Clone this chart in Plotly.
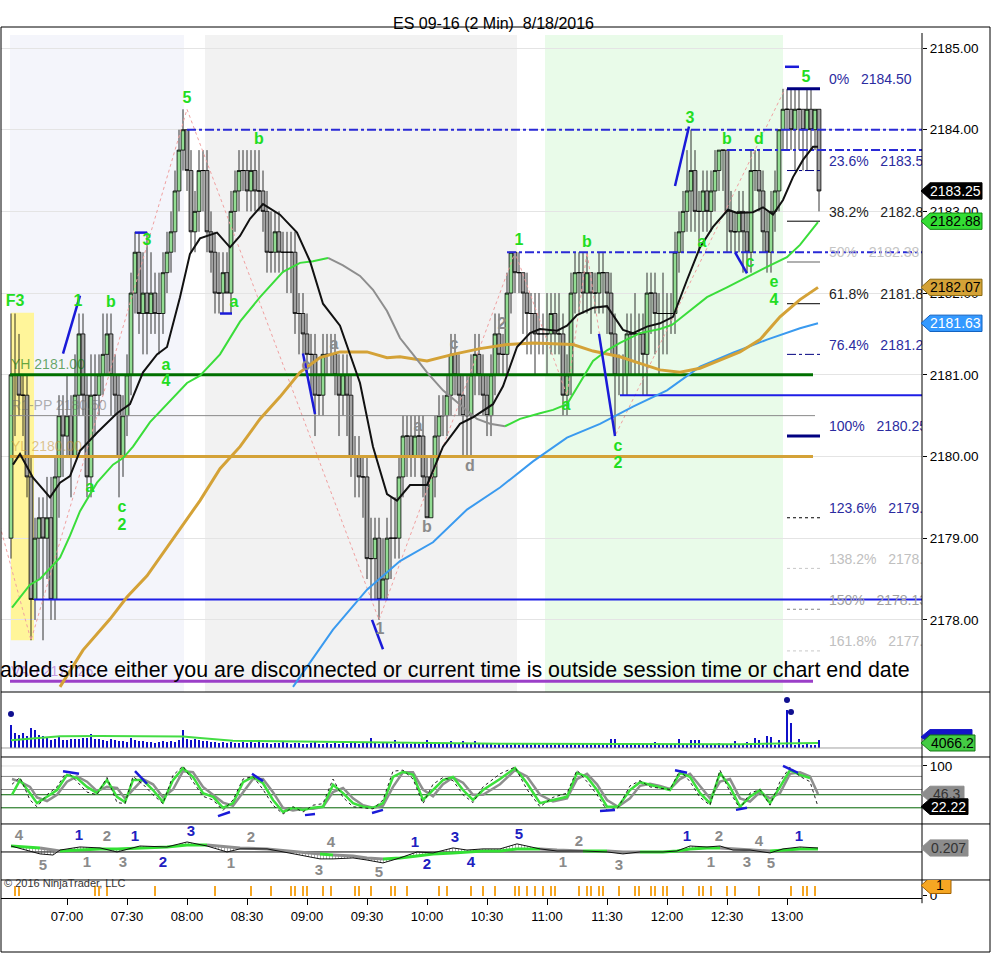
import plotly.graph_objects as go
from plotly.subplots import make_subplots

FONT = "Liberation Sans, Arial, sans-serif"

TITLE = "ES 09-16 (2 Min)  8/18/2016"
WARNING = ("abled since either you are disconnected or current time is outside "
           "session time or chart end date")
COPYRIGHT = "\u00a9 2016 NinjaTrader, LLC"

# time axis is in minutes after midnight
TIME_TICKS = [420, 450, 480, 510, 540, 570, 600, 630, 660, 690, 720, 750, 780]
TIME_LABELS = ["07:00", "07:30", "08:00", "08:30", "09:00", "09:30", "10:00",
               "10:30", "11:00", "11:30", "12:00", "12:30", "13:00"]
PRICE_TICKS = [2178, 2179, 2180, 2181, 2182, 2183, 2184, 2185]

# 2 minute bars from 06:32, prices in ticks (0.25) above 2177.00
BASE_PRICE = 2177.0
TICK = 0.25
FIRST_BAR = 392
BAR_LEN = 2
FIRST_OPEN = 8
CLOSE_T = [
    16, 16, 15, 15, 11, 5, 8, 9, 8, 9,
    5, 11, 14, 13, 14, 12, 15, 18, 15, 11,
    15, 15, 16, 17, 18, 16, 15, 12, 14, 16,
    20, 22, 19, 20, 19, 20, 19, 19, 21, 22,
    23, 25, 27, 28, 26, 23, 24, 26, 26, 23,
    22, 20, 20, 21, 20, 24, 25, 26, 26, 25,
    26, 25, 25, 24, 22, 22, 23, 22, 22, 22,
    22, 19, 19, 18, 17, 17, 15, 15, 17, 17,
    17, 16, 15, 16, 15, 12, 12, 11, 11, 7,
    7, 8, 5, 6, 8, 8, 8, 11, 13, 13,
    12, 13, 13, 11, 9, 11, 13, 14, 14, 15,
    17, 16, 15, 14, 14, 16, 17, 16, 15, 14,
    16, 18, 17, 17, 20, 22, 21, 21, 20, 19,
    19, 18, 18, 18, 18, 19, 18, 18, 15, 16,
    20, 21, 21, 20, 21, 20, 20, 21, 21, 20,
    18, 16, 16, 16, 18, 18, 18, 18, 17, 20,
    20, 19, 19, 19, 19, 19, 22, 23, 24, 25,
    26, 24, 24, 25, 24, 25, 26, 27, 27, 24,
    23, 23, 24, 23, 22, 26, 26, 25, 23, 22,
    24, 25, 28, 29, 29, 28, 29, 29, 28, 29,
    28, 29, 25,
]
HIGH_T = [
    19, 19, 18, 16, 16, 12, 9, 10, 10, 11,
    11, 12, 15, 15, 16, 15, 17, 19, 19, 16,
    17, 17, 17, 19, 19, 19, 17, 16, 15, 17,
    21, 23, 23, 22, 23, 22, 21, 21, 22, 23,
    24, 26, 28, 29, 28, 27, 25, 27, 27, 27,
    24, 23, 22, 22, 22, 25, 26, 27, 27, 27,
    27, 27, 27, 26, 25, 24, 24, 24, 23, 23,
    23, 23, 20, 20, 19, 18, 18, 16, 18, 18,
    18, 18, 17, 17, 17, 16, 13, 13, 12, 12,
    9, 9, 9, 8, 9, 10, 10, 12, 14, 14,
    14, 14, 14, 14, 12, 12, 14, 15, 15, 16,
    18, 18, 17, 16, 16, 17, 18, 18, 17, 16,
    17, 19, 19, 18, 21, 22, 22, 22, 21, 21,
    20, 20, 20, 19, 20, 20, 20, 20, 19, 17,
    21, 22, 22, 22, 22, 21, 21, 22, 22, 21,
    21, 19, 17, 17, 19, 19, 20, 19, 19, 21,
    21, 21, 20, 21, 20, 20, 23, 24, 25, 27,
    28, 27, 25, 26, 26, 26, 27, 27, 27, 27,
    25, 24, 25, 25, 24, 27, 27, 27, 26, 24,
    25, 26, 28, 30, 30, 30, 30, 30, 29, 30,
    30, 29, 29,
]
LOW_T = [
    7, 13, 14, 13, 10, 3, 4, 6, 3, 6,
    4, 4, 9, 11, 12, 10, 12, 14, 14, 10,
    10, 13, 14, 15, 16, 14, 14, 10, 11, 13,
    15, 19, 18, 17, 17, 18, 18, 17, 18, 20,
    21, 22, 24, 26, 25, 22, 22, 23, 24, 22,
    21, 19, 19, 19, 20, 19, 23, 24, 25, 24,
    24, 24, 24, 23, 21, 21, 21, 21, 21, 20,
    20, 18, 17, 17, 16, 15, 13, 14, 14, 16,
    16, 15, 13, 14, 13, 11, 10, 10, 9, 6,
    5, 5, 4, 5, 5, 6, 7, 7, 10, 11,
    11, 11, 12, 10, 9, 9, 10, 12, 13, 13,
    14, 15, 14, 12, 12, 12, 15, 15, 14, 13,
    13, 15, 16, 16, 16, 19, 20, 20, 18, 17,
    17, 16, 17, 17, 16, 17, 17, 17, 14, 14,
    15, 19, 19, 19, 19, 18, 19, 19, 19, 18,
    17, 13, 15, 15, 15, 16, 16, 16, 15, 15,
    18, 17, 16, 17, 17, 18, 18, 21, 22, 23,
    23, 23, 22, 23, 23, 23, 24, 25, 25, 22,
    22, 22, 22, 21, 21, 21, 25, 24, 22, 21,
    21, 23, 24, 27, 27, 27, 26, 27, 26, 26,
    27, 27, 24,
]
VOLUME = [
    18700, 12200, 10600, 12200, 9800, 16300, 14600, 10600, 9800, 8100,
    6500, 7300, 9800, 6500, 6500, 7300, 7300, 7300, 8100, 8100,
    11400, 7300, 7300, 6500, 5700, 7300, 6500, 5700, 5700, 4900,
    8100, 6500, 5700, 5700, 4900, 4900, 4100, 4900, 5700, 4900,
    5700, 4900, 6500, 14600, 7300, 6500, 7300, 6500, 5700, 5700,
    4900, 4900, 4100, 4900, 4100, 4900, 4100, 4100, 4900, 4100,
    4900, 4100, 6500, 4100, 4100, 3300, 4100, 4100, 4900, 4100,
    3300, 4100, 4100, 3300, 3300, 4100, 4900, 3300, 3300, 4100,
    3300, 4100, 3300, 4100, 3300, 4900, 4100, 3300, 4100, 4900,
    8100, 4100, 3300, 4900, 4100, 3300, 6500, 3300, 4100, 3300,
    3300, 4100, 3300, 4100, 6500, 3300, 3300, 4100, 3300, 4100,
    5700, 3300, 4100, 5700, 3300, 4100, 5700, 3300, 3300, 4100,
    3300, 2400, 3300, 2400, 3300, 2400, 3300, 2400, 3300, 3300,
    2400, 3300, 2400, 2400, 3300, 2400, 2400, 3300, 2400, 2400,
    3300, 2400, 2400, 3300, 2400, 2400, 3300, 2400, 2400, 2400,
    7300, 7300, 3300, 2400, 3300, 2400, 2400, 3300, 2400, 2400,
    2400, 4900, 2400, 3300, 2400, 2400, 2400, 7300, 2400, 2400,
    6500, 6500, 6500, 2400, 2400, 3300, 2400, 4100, 2400, 2400,
    3300, 5700, 2400, 2400, 4900, 2400, 8100, 6500, 2400, 9800,
    8900, 2400, 6500, 2400, 30900, 20300, 2400, 7300, 2400, 3300,
    2400, 2400, 6500,
]
VOL_AVG_T = [392, 416.5, 436.5, 461.5, 478, 486.5, 503, 536.5, 553, 603,
             636.5, 666.5, 696.5, 726.5, 756.5, 776.5, 786.5, 795.5]
VOL_AVG = [6300, 9500, 9800, 9800, 9300, 8100, 5900, 5300, 4900, 4100,
           3500, 3300, 3000, 2800, 3000, 3700, 4100, 4066.2]
VOL_DOT_T = [392, 780, 782]
VOL_DOT = [27600, 39000, 29300]

# moving averages
FAST_T = [393, 396.5, 403, 411.5, 416.5, 421.5, 426.5, 435, 445, 451.5,
          458, 465, 470, 476.5, 481.5, 486.5, 495, 501.5, 506.5, 511.5,
          518, 526.5, 535, 541.5, 548, 556.5, 566.5, 573, 580, 585,
          591.5, 600, 608, 616.5, 623, 633, 638, 645, 651.5, 656.5,
          665, 670, 675, 683, 690, 698, 703, 710, 716.5, 723,
          730, 736.5, 743, 750.5, 755, 763, 768, 773, 778, 783,
          788, 793, 795.5]
FAST_P = [2179.90, 2180.03, 2179.74, 2179.50, 2179.68, 2179.76, 2180.07, 2180.29, 2180.53, 2180.64,
          2181.03, 2181.25, 2181.34, 2181.95, 2182.48, 2182.67, 2182.74, 2182.56, 2182.70, 2182.91,
          2183.09, 2182.96, 2182.74, 2182.39, 2181.87, 2181.60, 2180.90, 2180.12, 2179.54, 2179.46,
          2179.65, 2179.65, 2180.12, 2180.40, 2180.48, 2180.64, 2180.86, 2181.34, 2181.51, 2181.56,
          2181.54, 2181.60, 2181.73, 2181.82, 2181.84, 2181.55, 2181.51, 2181.59, 2181.63, 2181.71,
          2182.16, 2182.56, 2182.81, 2183.02, 2182.98, 2182.99, 2183.05, 2182.96, 2183.14, 2183.42,
          2183.63, 2183.79, 2183.79]
TREND_T = [392.5, 401.5, 406.5, 416.5, 421.5, 426.5, 435, 443, 448, 453,
           461.5, 470, 480, 486.5, 496.5, 506.5, 516.5, 528, 536.5, 543,
           550.5, 558, 566.5, 573, 580, 586.5, 593, 600, 608, 616.5,
           625, 631.5, 639, 646.5, 656.5, 663, 670, 676.5, 683, 690,
           696.5, 706.5, 716.5, 722.5, 730, 740, 750, 760, 770, 780,
           786.5, 795.5]
TREND_P = [2178.15, 2178.43, 2178.50, 2178.76, 2179.03, 2179.33, 2179.68, 2179.90, 2179.98, 2180.12,
           2180.42, 2180.64, 2180.90, 2180.99, 2181.25, 2181.65, 2181.95, 2182.26, 2182.37, 2182.39,
           2182.43, 2182.34, 2182.21, 2182.04, 2181.78, 2181.45, 2181.25, 2181.03, 2180.81, 2180.64,
           2180.46, 2180.40, 2180.37, 2180.46, 2180.53, 2180.57, 2180.64, 2180.90, 2181.17, 2181.30,
           2181.39, 2181.51, 2181.56, 2181.61, 2181.76, 2181.95, 2182.07, 2182.20, 2182.32, 2182.44,
           2182.59, 2182.87]
TREND_UP = [1, 1, 1, 1, 1, 1, 1, 1, 1, 1, 1, 1, 1, 1, 1, 1, 1, 1, 1, 1,
            0, 0, 0, 0, 0, 0, 0, 0, 0, 0, 0, 0,
            1, 1, 1, 1, 1, 1, 1, 1, 1, 1, 1, 1, 1, 1, 1, 1, 1, 1, 1, 1]
GOLD_T = [416.5, 428, 441.5, 450, 460, 470, 480, 486.5, 496.5, 506.5,
          516.5, 526.5, 536.5, 546.5, 556.5, 570, 580, 586.5, 600, 613,
          626.5, 640, 653, 663, 673, 683, 691.5, 696.5, 706.5, 716.5,
          726.5, 736.5, 746.5, 756.5, 766.5, 776.5, 786.5, 795.5]
GOLD_P = [2177.18, 2177.63, 2178.01, 2178.28, 2178.54, 2178.89, 2179.23, 2179.46, 2179.85, 2180.12,
          2180.46, 2180.73, 2181.03, 2181.21, 2181.28, 2181.28, 2181.21, 2181.22, 2181.17, 2181.25,
          2181.32, 2181.37, 2181.39, 2181.38, 2181.37, 2181.29, 2181.25, 2181.22, 2181.14, 2181.06,
          2181.03, 2181.08, 2181.18, 2181.28, 2181.43, 2181.71, 2181.92, 2182.07]
SLOW_T = [533, 553, 570, 586.5, 603, 620, 636.5, 653, 670, 686.5,
          703, 720, 736.5, 753, 770, 786.5, 795.5]
SLOW_P = [2177.18, 2177.88, 2178.37, 2178.72, 2178.95, 2179.35, 2179.62, 2179.94, 2180.23, 2180.40,
          2180.61, 2180.81, 2181.10, 2181.27, 2181.43, 2181.57, 2181.63]

ZIGZAG_T = [386.5, 402, 480, 576, 644, 670, 680, 694, 779]
ZIGZAG_P = [2179.15, 2177.75, 2184.25, 2178.0, 2182.5, 2180.75, 2182.5, 2180.25, 2184.5]

SESSION_START = [391.5, 489, 659]
SESSION_END = [478.5, 645, 778]
F3_BOX = [392, 403.5, 2177.75, 2181.76]

# horizontal levels
LEVEL_NAMES = ["YH 2181.00", "R1-PP 2180.50", "YL 2180.00", "VAH 2177.25"]
LEVEL_PRICES = [2181.00, 2180.50, 2180.00, 2177.25]
LEVEL_END = [793, 794, 793, 793]
SR_PRICES = [2184.00, 2183.75, 2182.50]
SR_START = [480, 750, 640]
STOP_PRICES = [2178.25, 2180.75]
STOP_START = [403.5, 696.5]

FIB_PCT = ["0%", "23.6%", "38.2%", "50%", "61.8%", "76.4%", "100%",
           "123.6%", "138.2%", "150%", "161.8%"]
FIB_PRICE = [2184.50, 2183.50, 2182.88, 2182.38, 2181.87, 2181.25, 2180.25,
             2179.25, 2178.63, 2178.13, 2177.62]

# wave counts
WAVE_T = [394, 425.5, 442, 460, 480, 516, 503.5, 469.5, 469.5, 431.5,
          447.5, 447.5, 646, 680, 669.5, 695.5, 695.5, 731.5, 750, 766,
          737.5, 761.5, 773.5, 773.5, 789.5]
WAVE_P = [2181.89, 2181.89, 2181.88, 2182.64, 2184.38, 2183.87, 2181.88, 2181.11, 2180.91, 2179.61,
          2179.37, 2179.15, 2182.64, 2182.61, 2180.62, 2180.12, 2179.91, 2184.13, 2183.87, 2183.87,
          2182.61, 2182.37, 2182.12, 2181.90, 2184.63]
WAVE_TXT = ["F3", "1", "b", "3", "5", "b", "a", "a", "4", "a",
            "c", "2", "1", "b", "a", "c", "2", "3", "b", "d",
            "a", "c", "e", "4", "5"]
SUBWAVE_T = [553.5, 613.5, 595.5, 600, 621.5, 637.5, 576.5, 539.5]
SUBWAVE_P = [2181.36, 2181.36, 2180.36, 2179.12, 2179.87, 2181.61, 2177.88, 2181.11]
SUBWAVE_TXT = ["a", "c", "a", "b", "d", "2", "1", "c"]
MARK_T0 = [418, 454, 496.5, 538, 572.5, 686, 724, 754, 779]
MARK_P0 = [2181.26, 2182.74, 2181.75, 2181.26, 2178.00, 2181.50, 2183.31, 2182.50, 2184.77]
MARK_T1 = [426.5, 460, 502.5, 544, 578, 694, 731, 760, 786]
MARK_P1 = [2181.97, 2182.74, 2181.75, 2180.52, 2177.64, 2180.25, 2184.04, 2182.24, 2184.77]

# right axis value tags
PRICE_TAGS = [2183.25, 2182.88, 2182.07, 2181.63]

# stochastics
STOCH_T = [392.5, 396.5, 401.5, 405, 410, 415, 420, 425, 430, 435,
           440, 445, 449, 453, 458, 463, 468, 473, 478, 483,
           488, 493, 498, 503, 508, 513, 518, 523, 528, 533,
           538, 543, 548, 553, 558, 563, 568, 573, 578, 583,
           588, 593, 598, 603, 608, 613, 618, 623, 628, 636.5,
           644, 650, 656.5, 663, 670, 675, 680, 685, 690, 695.5,
           701.5, 706.5, 711.5, 716.5, 721.5, 726.5, 731.5, 736.5, 741.5, 746.5,
           751.5, 756.5, 761.5, 766.5, 771.5, 776.5, 781.5, 786.5, 791.5, 795.5]
STOCH_D = [45, 73, 48, 29, 41, 54, 83, 77, 60, 48,
           73, 41, 31, 73, 73, 54, 31, 73, 96, 79,
           48, 41, 20, 29, 69, 79, 67, 35, 12, 20,
           16, 20, 22, 64, 48, 29, 22, 20, 29, 79,
           89, 83, 35, 54, 73, 79, 54, 35, 54, 75,
           96, 67, 29, 35, 41, 87, 79, 54, 22, 22,
           54, 69, 64, 60, 54, 87, 79, 48, 29, 87,
           60, 22, 41, 54, 29, 60, 92, 83, 77, None]
STOCH_SIG = [75, 70, 60, 40, 33, 45, 70, 80, 70, 52,
             60, 58, 38, 55, 75, 65, 40, 55, 90, 88,
             60, 45, 30, 24, 50, 75, 75, 50, 20, 15,
             18, 18, 22, 50, 58, 38, 25, 20, 24, 60,
             88, 88, 55, 42, 65, 78, 68, 45, 45, 65,
             92, 80, 45, 32, 38, 75, 85, 65, 35, 22,
             38, 62, 66, 62, 56, 75, 85, 62, 38, 70,
             75, 38, 32, 50, 38, 48, 85, 88, 80, 46.3]
STOCH_K = [65, 78, 35, 22, 45, 60, 90, 70, 50, 45,
           78, 30, 28, 80, 65, 45, 28, 82, 100, 70,
           42, 35, 15, 35, 75, 80, 55, 25, 8, 22,
           12, 25, 28, 75, 40, 22, 20, 18, 35, 90,
           92, 75, 28, 65, 78, 72, 45, 30, 60, 85,
           98, 55, 22, 40, 48, 92, 70, 45, 15, 20,
           62, 72, 60, 58, 55, 92, 70, 40, 25, 92,
           50, 18, 48, 55, 25, 70, 98, 80, 70, 22.22]
STOCH_LEVELS = [100, 80, 55, 45, 20]
DIV_T0 = [418, 454, 495.5, 512.5, 539, 572.5, 724, 686.5, 754.5, 778]
DIV_V0 = [90, 90, 4, 85, 6, 10, 92, 14, 16, 100]
DIV_T1 = [426, 460, 501.5, 518, 544, 578, 730, 694, 760, 785.5]
DIV_V1 = [85, 66, 12, 71, 8, 16, 87, 16, 20, 87]

# oscillator
OSC_T = [392, 400, 406.5, 413, 416.5, 426.5, 436.5, 445, 456.5, 470,
         480, 490, 500, 506.5, 520, 536.5, 546.5, 553, 563, 570,
         578, 586.5, 595, 603, 613, 620, 628, 636.5, 645, 656.5,
         665, 678, 690, 698, 706.5, 718, 725, 731.5, 740, 746.5,
         753, 761.5, 771.5, 778, 786.5, 795.5]
OSC_MAIN = [0.31, 0.10, -0.10, -0.16, 0.10, 0.26, 0.21, 0.00, 0.31, 0.26,
            0.52, 0.31, 0.00, 0.16, 0.16, -0.16, -0.36, -0.36, -0.31, -0.42,
            -0.57, -0.31, 0.00, -0.05, 0.21, 0.10, 0.16, 0.16, 0.42, 0.16,
            0.05, 0.05, 0.00, -0.10, 0.00, 0.00, 0.05, 0.31, 0.26, 0.31,
            0.10, 0.10, -0.05, 0.16, 0.26, 0.207]
OSC_SIG = [0.31, 0.26, 0.21, 0.10, 0.05, 0.10, 0.16, 0.16, 0.21, 0.26,
           0.36, 0.36, 0.26, 0.21, 0.16, 0.00, -0.10, -0.16, -0.21, -0.31,
           -0.36, -0.31, -0.21, -0.10, -0.05, 0.00, 0.05, 0.05, 0.16, 0.16,
           0.10, 0.05, 0.05, 0.00, 0.00, 0.00, 0.05, 0.16, 0.21, 0.21,
           0.16, 0.10, 0.05, 0.10, 0.16, 0.16]
OSC_SIG_UP = [1, 1, 0, 0, 1, 1, 1, 1, 1, 1,
              1, 0, 0, 0, 0, 0, 1, 0, 0, 0,
              1, 1, 1, 1, 1, 1, 1, 1, 1, 0,
              0, 1, 0, 0, 1, 1, 1, 1, 1, 0,
              0, 0, 1, 1, 1, 1]
OSC_LBL_T = [396, 408, 426, 440, 430, 448, 454, 468, 482, 502,
             512, 546, 552, 576, 594, 600, 614, 622, 646, 668,
             676, 696, 730, 746, 742, 760, 766, 772, 786]
OSC_LBL_V = [0.83, -0.73, 0.83, 0.78, -0.57, -0.57, 0.78, -0.57, 1.0, -0.62,
             0.73, -0.99, 0.47, -1.1, 0.47, -0.68, 0.73, -0.57, 0.88, -0.57,
             0.52, -0.73, 0.78, 0.78, -0.57, -0.57, 0.52, -0.62, 0.78]
OSC_LBL_TXT = ["4", "5", "1", "2", "1", "3", "1", "2", "3", "1",
               "2", "3", "4", "5", "1", "2", "3", "4", "5", "1",
               "2", "3", "1", "2", "1", "3", "4", "5", "1"]
OSC_LBL_BLUE = [0, 0, 1, 0, 0, 0, 1, 1, 1, 0,
                0, 0, 0, 0, 1, 1, 1, 1, 1, 0,
                0, 0, 1, 0, 0, 0, 0, 0, 1]

# alert bars
ALERT_T = [394, 396, 434, 436, 440, 464, 494, 512, 522, 532, 534, 538, 540, 548,
           552, 564, 566, 572, 582, 584, 590, 606, 610, 622, 628, 634, 644, 646,
           650, 654, 658, 662, 664, 676, 680, 682, 686, 688, 696, 704, 706, 712,
           714, 718, 720, 728, 736, 738, 742, 750, 754, 766, 782, 788, 790, 794]

X_RANGE = [387, 847.5]
P_RANGE = [2177.117, 2185.257]
V_RANGE = [-7300, 44700]
S_RANGE = [-10.9, 117.2]
O_RANGE = [-1.456, 1.456]
A_RANGE = [-0.25, 1.55]

GREEN_TXT = "#22DD22"
BLUE_MARK = "#1A1AD8"


def px_paper(p):
    return (p - 1) / 921.0


def tick_price(t):
    return BASE_PRICE + TICK * t


fig = make_subplots(rows=5, cols=1, shared_xaxes=True, vertical_spacing=0)


def hseg(y, x0, x1, color, width=1, dash="solid", row=1):
    fig.add_trace(go.Scatter(x=[x0, x1], y=[y, y], mode="lines",
                             line=dict(color=color, width=width, dash=dash),
                             hoverinfo="skip", showlegend=False), row=row, col=1)


def seg(x0, y0, x1, y1, color, width, row):
    fig.add_trace(go.Scatter(x=[x0, x1], y=[y0, y1], mode="lines",
                             line=dict(color=color, width=width),
                             hoverinfo="skip", showlegend=False), row=row, col=1)


def texts(xs, ys, labels, color, size, row, pos="middle center", weight="bold"):
    fig.add_trace(go.Scatter(x=xs, y=ys, mode="text", text=labels, textposition=pos,
                             textfont=dict(color=color, size=size, family=FONT, weight=weight),
                             hoverinfo="skip", showlegend=False), row=row, col=1)


def two_colour_line(xs, ys, up, col_up, col_dn, width, row):
    i = 0
    n = len(xs)
    while i < n - 1:
        j = i
        while j < n - 1 and up[j] == up[i]:
            j += 1
        fig.add_trace(go.Scatter(x=xs[i:j + 1], y=ys[i:j + 1], mode="lines",
                                 line=dict(color=col_up if up[i] else col_dn, width=width),
                                 hoverinfo="skip", showlegend=False), row=row, col=1)
        i = j


# ---------------- price panel ----------------
sess_cols = ["#F4F5FB", "#F2F2F2", "#E9FBE9"]
for s0, s1, c in zip(SESSION_START, SESSION_END, sess_cols):
    fig.add_shape(type="rect", xref="x", yref="y", x0=s0, x1=s1, y0=P_RANGE[0],
                  y1=2185.16, fillcolor=c, line_width=0, layer="below")
fig.add_shape(type="rect", xref="x", yref="y", x0=F3_BOX[0], x1=F3_BOX[1],
              y0=F3_BOX[2], y1=F3_BOX[3], fillcolor="#FFF59A", line_width=0, layer="below")

fig.add_trace(go.Scatter(x=ZIGZAG_T, y=ZIGZAG_P, mode="lines",
                         line=dict(color="#F0A0A0", width=1, dash="dot"),
                         hoverinfo="skip", showlegend=False), row=1, col=1)

bar_t = [FIRST_BAR + BAR_LEN * i for i in range(len(CLOSE_T))]
close = [tick_price(v) for v in CLOSE_T]
opens = [tick_price(FIRST_OPEN)] + close[:-1]
fig.add_trace(go.Candlestick(
    x=bar_t, open=opens, close=close,
    high=[tick_price(v) for v in HIGH_T], low=[tick_price(v) for v in LOW_T],
    increasing=dict(line=dict(color="black", width=0.8), fillcolor="#92DC92"),
    decreasing=dict(line=dict(color="black", width=0.8), fillcolor="#A0A0A0"),
    whiskerwidth=0, hoverinfo="skip", showlegend=False), row=1, col=1)

lvl_cols = ["#007000", "#8A8A8A", "#D4A237", "#9B3FC8"]
lvl_w = [3, 1, 3, 3]
for p, e, c, w in zip(LEVEL_PRICES, LEVEL_END, lvl_cols, lvl_w):
    hseg(p, 391.5, e, c, w)
for p, s in zip(SR_PRICES, SR_START):
    hseg(p, s, X_RANGE[1], "#2A2AD6", 2, "dashdot")
for p, s in zip(STOP_PRICES, STOP_START):
    hseg(p, s, X_RANGE[1], "#1E1EE6", 2)

lbl_cols = ["rgba(0,112,0,0.6)", "rgba(110,110,110,0.55)", "rgba(200,150,50,0.55)",
            "rgba(150,60,200,0.5)"]
for name, p, c in zip(LEVEL_NAMES, LEVEL_PRICES, lbl_cols):
    texts([392], [p + 0.11], [name], c, 14, 1, pos="middle right", weight="normal")

fib_line = [("#000080", 3, "solid"), ("#000080", 1, "dashdot"), ("black", 1, "solid"),
            ("#B0B0B0", 2, "solid"), ("black", 1, "solid"), ("#000080", 1, "dashdot"),
            ("#000080", 3, "solid"), ("black", 1, "dot"), ("#C8C8C8", 1, "dot"),
            ("#888888", 1, "dot"), ("#C8C8C8", 1, "dot")]
fib_txt_col = ["#2B2BA0", "#2B2BA0", "#222222", "#C4C4C4", "#222222", "#2B2BA0",
               "#2B2BA0", "#2B2BA0", "#C0C0C0", "#A0A0A0", "#C0C0C0"]
for p, (c, w, d) in zip(FIB_PRICE, fib_line):
    hseg(p, 780, 796.5, c, w, d)
for pct, p, c in zip(FIB_PCT, FIB_PRICE, fib_txt_col):
    texts([801], [p + 0.1], [f"{pct}   {p:.2f}"], c, 14, 1, pos="middle right",
          weight="normal")

fig.add_trace(go.Scatter(x=SLOW_T, y=SLOW_P, mode="lines", line=dict(color="#3A9AEF", width=2),
                         hoverinfo="skip", showlegend=False), row=1, col=1)
fig.add_trace(go.Scatter(x=GOLD_T, y=GOLD_P, mode="lines", line=dict(color="#D4A237", width=3),
                         hoverinfo="skip", showlegend=False), row=1, col=1)
two_colour_line(TREND_T, TREND_P, TREND_UP, "#3ADD3A", "#8E8E8E", 2, 1)
fig.add_trace(go.Scatter(x=FAST_T, y=FAST_P, mode="lines", line=dict(color="#111111", width=2),
                         hoverinfo="skip", showlegend=False), row=1, col=1)

for a, b, c, d in zip(MARK_T0, MARK_P0, MARK_T1, MARK_P1):
    seg(a, b, c, d, BLUE_MARK, 2.5, 1)
texts(WAVE_T, WAVE_P, WAVE_TXT, GREEN_TXT, 16, 1)
texts(SUBWAVE_T, SUBWAVE_P, SUBWAVE_TXT, "#8A8A8A", 16, 1)

# ---------------- volume ----------------
hseg(0, X_RANGE[0], X_RANGE[1], "#A0A0A0", 1, row=2)
fig.add_trace(go.Bar(x=bar_t, y=VOLUME, width=0.9, marker=dict(color="#1010C8", line_width=0),
                     hoverinfo="skip", showlegend=False), row=2, col=1)
fig.add_trace(go.Scatter(x=VOL_AVG_T, y=VOL_AVG, mode="lines", line=dict(color="#44DD44", width=2),
                         hoverinfo="skip", showlegend=False), row=2, col=1)
fig.add_trace(go.Scatter(x=VOL_DOT_T, y=VOL_DOT, mode="markers",
                         marker=dict(color="#101090", size=6),
                         hoverinfo="skip", showlegend=False), row=2, col=1)

# ---------------- stochastics ----------------
st_cols = ["#DDDDDD", "#888888", "#888888", "#006400", "#006400"]
for lv, c in zip(STOCH_LEVELS, st_cols):
    hseg(lv, X_RANGE[0], X_RANGE[1], c, 1, row=3)
fig.add_trace(go.Scatter(x=STOCH_T, y=STOCH_SIG, mode="lines", line=dict(color="#8E8E8E", width=2.5),
                         hoverinfo="skip", showlegend=False), row=3, col=1)
fig.add_trace(go.Scatter(x=STOCH_T, y=STOCH_D, mode="lines", line=dict(color="#3CE03C", width=2.5),
                         hoverinfo="skip", showlegend=False), row=3, col=1)
fig.add_trace(go.Scatter(x=STOCH_T, y=STOCH_K, mode="lines",
                         line=dict(color="#222222", width=1, dash="dot"),
                         hoverinfo="skip", showlegend=False), row=3, col=1)
for a, b, c, d in zip(DIV_T0, DIV_V0, DIV_T1, DIV_V1):
    seg(a, b, c, d, BLUE_MARK, 2.5, 3)

# ---------------- oscillator ----------------
hseg(0, X_RANGE[0], X_RANGE[1], "black", 1, row=4)
fig.add_trace(go.Scatter(x=OSC_T, y=OSC_MAIN, mode="lines", line=dict(color="rgba(0,0,0,0)", width=1),
                         hoverinfo="skip", showlegend=False), row=4, col=1)
fig.add_trace(go.Scatter(x=OSC_T, y=OSC_SIG, mode="lines", line=dict(color="rgba(0,0,0,0)", width=1),
                         fill="tonexty", fillcolor="rgba(0,0,0,0)",
                         fillpattern=dict(shape="|", fgcolor="#555555", size=3, solidity=0.35),
                         hoverinfo="skip", showlegend=False), row=4, col=1)
two_colour_line(OSC_T, OSC_SIG, OSC_SIG_UP, "#33E033", "#8E8E8E", 3, 4)
fig.add_trace(go.Scatter(x=OSC_T, y=OSC_MAIN, mode="lines", line=dict(color="#111111", width=1),
                         hoverinfo="skip", showlegend=False), row=4, col=1)
for blue_flag, col in ((1, "#2020C0"), (0, "#8A8A8A")):
    idx = [i for i, b in enumerate(OSC_LBL_BLUE) if b == blue_flag]
    texts([OSC_LBL_T[i] for i in idx], [OSC_LBL_V[i] for i in idx],
          [OSC_LBL_TXT[i] for i in idx], col, 15, 4)

# ---------------- alert bars ----------------
fig.add_trace(go.Bar(x=ALERT_T, y=[1] * len(ALERT_T), width=1.4,
                     marker=dict(color="#F5A623", line_width=0),
                     hoverinfo="skip", showlegend=False), row=5, col=1)

# ---------------- axes ----------------
fig.update_xaxes(range=X_RANGE, showgrid=False, zeroline=False, showticklabels=False,
                 ticks="", rangeslider_visible=False, fixedrange=True)
fig.update_xaxes(row=5, col=1, showticklabels=True, tickvals=TIME_TICKS, ticktext=TIME_LABELS,
                 ticks="outside", ticklen=6, tickcolor="black", showline=True,
                 linecolor="black", linewidth=1, tickfont=dict(size=13, color="black"))

ydomains = [[0.2365, 1.0], [0.1619, 0.2354], [0.0850, 0.1619], [0.0207, 0.0850], [0.0, 0.0207]]
yranges = [P_RANGE, V_RANGE, S_RANGE, O_RANGE, A_RANGE]
for r in range(5):
    fig.update_yaxes(row=r + 1, col=1, domain=ydomains[r], range=yranges[r], side="right",
                     showgrid=False, zeroline=False, showticklabels=False, ticks="",
                     fixedrange=True)
fig.update_yaxes(row=1, col=1, showgrid=True, gridcolor="#E4E4E4", gridwidth=1,
                 tickvals=PRICE_TICKS, ticktext=[f"{v:.2f}" for v in PRICE_TICKS],
                 showticklabels=True, ticks="outside", ticklen=4, tickcolor="black",
                 tickfont=dict(size=13.5, color="black"))
fig.update_yaxes(row=3, col=1, tickvals=[100], ticktext=["100"], showticklabels=True,
                 ticks="outside", ticklen=4, tickcolor="black",
                 tickfont=dict(size=13.5, color="black"))
fig.update_yaxes(row=5, col=1, tickvals=[0], ticktext=["0"], showticklabels=True,
                 ticks="outside", ticklen=4, tickcolor="black",
                 tickfont=dict(size=13.5, color="black"))


# ---------------- frame & separators ----------------
def paper_line(x0, y0, x1, y1, color="black", width=1):
    fig.add_shape(type="line", xref="paper", yref="paper", x0=x0, y0=y0, x1=x1, y1=y1,
                  line=dict(color=color, width=width), layer="above")


right_edge = px_paper(990)
for yp in (0.2365, 0.1619, 0.0850, 0.0207):
    paper_line(0, yp, right_edge, yp)
paper_line(0, 1.0, right_edge, 1.0)
paper_line(0, -0.062, right_edge, -0.062)
paper_line(0, -0.062, 0, 1.0)
paper_line(right_edge, -0.062, right_edge, 1.0)
paper_line(1.0, -0.006, 1.0, (898 - 33) / 871.0)


# ---------------- value tags ----------------
def tag(yref, y, half, text, bg, fg, end_px=982, border=None, size=14):
    xt, xs, xe = px_paper(921), px_paper(930), px_paper(end_px)
    path = (f"M {xt},{y} L {xs},{y + half} L {xe},{y + half} "
            f"L {xe},{y - half} L {xs},{y - half} Z")
    fig.add_shape(type="path", path=path, xref="paper", yref=yref, fillcolor=bg,
                  line=dict(color=border or bg, width=1), layer="above")
    if text:
        fig.add_annotation(x=px_paper((929 + end_px) / 2.0), y=y, xref="paper", yref=yref,
                           xanchor="center", yanchor="middle", text=text, showarrow=False,
                           font=dict(family=FONT, size=size, color=fg))


tag_style = [("#000000", "white", None), ("#33DD33", "black", "#118811"),
             ("#D4A237", "black", "#8A6A10"), ("#3399FF", "white", "#1060C0")]
for p, (bg, fg, bd) in zip(PRICE_TAGS, tag_style):
    tag("y", p, 0.1, f"{p:.2f}", bg, fg, border=bd)
tag("y2", VOL_AVG[-1] + 4900, 6000, "", "#1414C8", "white", end_px=972)
tag("y2", VOL_AVG[-1], 6500, f"{VOL_AVG[-1]:.1f}", "#44CC44", "black", end_px=975,
    border="#117711")
tag("y3", STOCH_SIG[-1], 15, f"{STOCH_SIG[-1]:.1f}", "#8C8C8C", "#333333", end_px=964)
tag("y3", STOCH_K[-1], 15, f"{STOCH_K[-1]:.2f}", "#000000", "white", end_px=968)
tag("y4", OSC_MAIN[-1], 0.42, f"{OSC_MAIN[-1]:.3f}", "#8C8C8C", "#333333", end_px=968)
tag("y5", 1, 0.8, "1", "#F5A623", "black", end_px=951, border="#A06000")

# ---------------- texts ----------------
fig.add_annotation(x=px_paper(912), y=2177.39, xref="paper", yref="y", xanchor="right",
                   text=WARNING, showarrow=False, font=dict(family=FONT, size=21.4, color="black"))
fig.add_annotation(x=px_paper(493), y=(898 - 13) / 871.0, xref="paper", yref="paper",
                   xanchor="center", text=TITLE, showarrow=False,
                   font=dict(family=FONT, size=16, color="black"))
fig.add_annotation(x=px_paper(2), y=(898 - 891) / 871.0, xref="paper", yref="paper",
                   xanchor="left", text=COPYRIGHT, showarrow=False,
                   font=dict(family=FONT, size=11, color="#333333"))

fig.update_layout(
    width=992, height=954,
    margin=dict(l=1, r=70, t=27, b=56),
    paper_bgcolor="white", plot_bgcolor="white",
    font=dict(family=FONT, size=12, color="black"),
    showlegend=False, hovermode=False, bargap=0, boxgap=0.05, boxgroupgap=0,
)

fig.write_html("out.html", config={"displayModeBar": False},
               post_script="document.body.style.margin='0';")
